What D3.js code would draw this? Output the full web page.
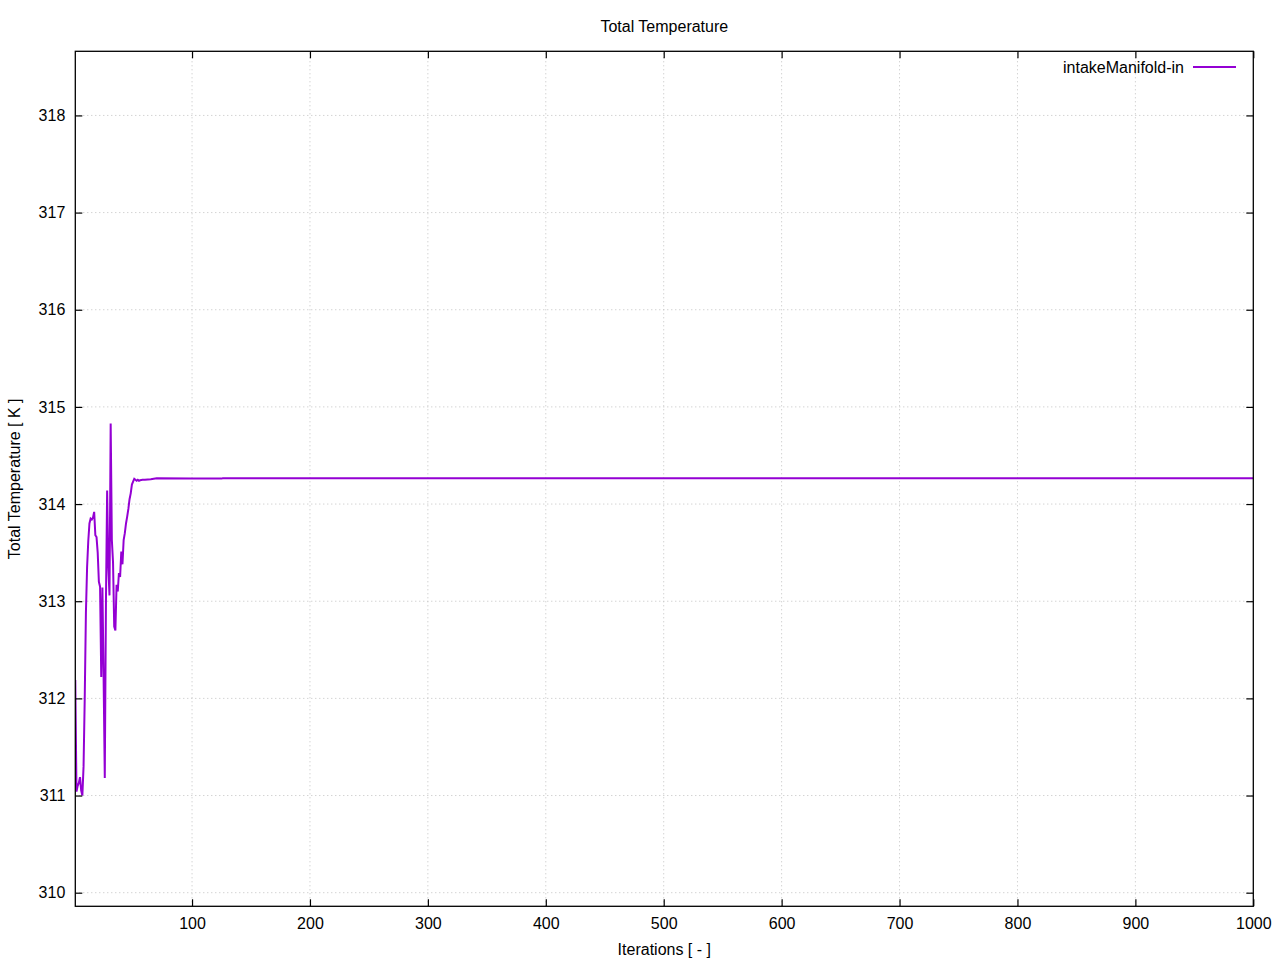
<!DOCTYPE html>
<html>
<head>
<meta charset="utf-8">
<script src="https://cdn.jsdelivr.net/npm/d3@7"></script>
<style>
  html, body { margin: 0; padding: 0; background: #fff; }
  text { font-family: "Liberation Sans", Arial, sans-serif; fill: #000; }
</style>
</head>
<body>
<svg id="chart" width="1280" height="960"></svg>
<script>
const title = "Total Temperature";
const xLabel = "Iterations [ - ]";
const yLabel = "Total Temperature [ K ]";
const seriesName = "intakeManifold-in";

const iterations = [1,2,3,4,5,6,7,8,9,10,11,12,13,14,15,16,17,18,19,20,
  21,22,23,24,25,26,27,28,29,30,31,32,33,34,35,36,37,38,39,40,
  41,42,43,44,45,46,47,48,49,50,51,52,53,54,55,56,58,60,65,70,100,125,126,1000];
const temperature = [312.19,311.04,311.10,311.13,311.19,311.05,311.00,311.30,312.00,312.88,
  313.35,313.62,313.80,313.85,313.84,313.86,313.92,313.68,313.66,313.50,
  313.20,313.15,312.22,313.14,312.22,311.18,313.01,314.14,313.35,313.06,
  314.83,313.63,313.40,312.74,312.70,313.17,313.10,313.29,313.25,313.51,
  313.38,313.63,313.70,313.80,313.87,313.95,314.05,314.11,314.20,314.23,
  314.26,314.25,314.24,314.25,314.24,314.245,314.25,314.25,314.255,314.265,314.262,314.262,314.265,314.265];

const xTicks = [100,200,300,400,500,600,700,800,900,1000];
const yTicks = [310,311,312,313,314,315,316,317,318];

const FS = 16;
const margin = {left: 75.3, right: 1280 - 1253.3, top: 51.3, bottom: 960 - 906.3};
const W = 1280, H = 960;
const svg = d3.select("#chart");

const x = d3.scaleLinear().domain([1, 1000]).range([margin.left, W - margin.right]);
const y = d3.scaleLinear().domain([309.86, 318.66]).range([H - margin.bottom, margin.top]);

const grid = svg.append("g");
grid.selectAll("line.gx").data(xTicks.filter(d => d < 1000)).enter().append("line")
  .attr("x1", d => x(d)).attr("x2", d => x(d))
  .attr("y1", y.range()[0]).attr("y2", y.range()[1])
  .attr("stroke", "#c0c0c0").attr("stroke-width", 1).attr("stroke-dasharray", "1,3");
grid.selectAll("line.gy").data(yTicks).enter().append("line")
  .attr("x1", x.range()[0]).attr("x2", x.range()[1])
  .attr("y1", d => y(d)).attr("y2", d => y(d))
  .attr("stroke", "#c0c0c0").attr("stroke-width", 1).attr("stroke-dasharray", "1,3");

// data line
const pts = iterations.map((d, i) => [d, temperature[i]]);
svg.append("defs").append("clipPath").attr("id", "clip").append("rect")
  .attr("x", margin.left).attr("y", margin.top)
  .attr("width", W - margin.left - margin.right).attr("height", H - margin.top - margin.bottom);
svg.append("path").datum(pts)
  .attr("clip-path", "url(#clip)")
  .attr("fill", "none").attr("stroke", "#9400d3").attr("stroke-width", 2)
  .attr("stroke-linejoin", "miter")
  .attr("d", d3.line().x(d => x(d[0])).y(d => y(d[1])));

// axes (ticks inward, mirrored)
const tl = 7;
const axB = svg.append("g").attr("transform", `translate(0,${y.range()[0]})`)
  .call(d3.axisBottom(x).tickValues(xTicks).tickSizeInner(-tl).tickSizeOuter(0).tickPadding(11).tickFormat(d3.format("d")));
const axT = svg.append("g").attr("transform", `translate(0,${y.range()[1]})`)
  .call(d3.axisTop(x).tickValues(xTicks).tickSizeInner(-tl).tickSizeOuter(0).tickFormat(""));
const axL = svg.append("g").attr("transform", `translate(${x.range()[0]},0)`)
  .call(d3.axisLeft(y).tickValues(yTicks).tickSizeInner(-tl).tickSizeOuter(0).tickPadding(10).tickFormat(d3.format("d")));
const axR = svg.append("g").attr("transform", `translate(${x.range()[1]},0)`)
  .call(d3.axisRight(y).tickValues(yTicks).tickSizeInner(-tl).tickSizeOuter(0).tickFormat(""));
[axB, axT, axL, axR].forEach(g => {
  g.selectAll(".domain").remove();
  g.selectAll("line").attr("stroke", "#000").attr("stroke-width", 1.2);
  g.selectAll("text").attr("font-size", FS).attr("font-family", "Liberation Sans, Arial, sans-serif").attr("fill", "#000");
});

// border
svg.append("rect")
  .attr("x", x.range()[0]).attr("y", y.range()[1])
  .attr("width", x.range()[1] - x.range()[0]).attr("height", y.range()[0] - y.range()[1])
  .attr("fill", "none").attr("stroke", "#000").attr("stroke-width", 1.3);

// title & labels
svg.append("text").attr("x", (x.range()[0] + x.range()[1]) / 2).attr("y", 32)
  .attr("text-anchor", "middle").attr("font-size", FS).text(title);
svg.append("text").attr("x", (x.range()[0] + x.range()[1]) / 2).attr("y", 955)
  .attr("text-anchor", "middle").attr("font-size", FS).text(xLabel);
svg.append("text").attr("transform", `translate(20,${(y.range()[0] + y.range()[1]) / 2}) rotate(-90)`)
  .attr("text-anchor", "middle").attr("font-size", FS).text(yLabel);

// legend
svg.append("text").attr("x", 1184).attr("y", 73).attr("text-anchor", "end")
  .attr("font-size", FS).text(seriesName);
svg.append("line").attr("x1", 1193).attr("x2", 1236).attr("y1", 67).attr("y2", 67)
  .attr("stroke", "#9400d3").attr("stroke-width", 2);
</script>
</body>
</html>
